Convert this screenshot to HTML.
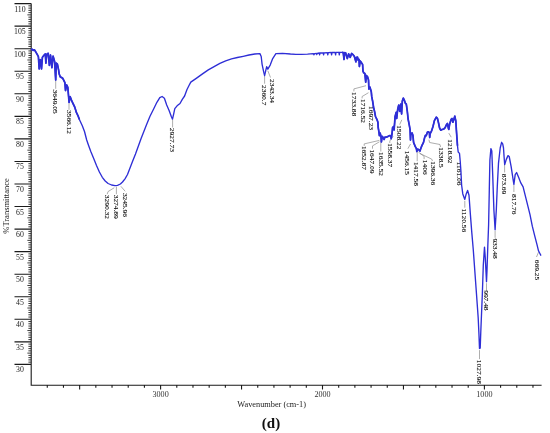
<!DOCTYPE html><html><head><meta charset="utf-8"><style>html,body{margin:0;padding:0;background:#fff;}svg{display:block;will-change:transform;}text{font-family:"Liberation Serif",serif;}</style></head><body><svg width="550" height="433" viewBox="0 0 550 433"><rect width="550" height="433" fill="#fff"/><path d="M31.2,3.6V385.2H541.6M14.5,3.60H31.2M14.5,26.15H31.2M14.5,48.70H31.2M14.5,71.25H31.2M14.5,93.80H31.2M14.5,116.35H31.2M14.5,138.90H31.2M14.5,161.45H31.2M14.5,184.00H31.2M14.5,206.55H31.2M14.5,229.10H31.2M14.5,251.65H31.2M14.5,274.20H31.2M14.5,296.75H31.2M14.5,319.30H31.2M14.5,341.85H31.2M14.5,364.40H31.2M47.27,385.2V387.7M63.46,385.2V387.7M79.65,385.2V389.5M95.84,385.2V387.7M112.03,385.2V387.7M128.22,385.2V387.7M144.41,385.2V387.7M160.60,385.2V389.5M176.79,385.2V387.7M192.98,385.2V387.7M209.17,385.2V387.7M225.36,385.2V387.7M241.55,385.2V389.5M257.74,385.2V387.7M273.93,385.2V387.7M290.12,385.2V387.7M306.31,385.2V387.7M322.50,385.2V389.5M338.69,385.2V387.7M354.88,385.2V387.7M371.07,385.2V387.7M387.26,385.2V387.7M403.45,385.2V389.5M419.64,385.2V387.7M435.83,385.2V387.7M452.02,385.2V387.7M468.21,385.2V387.7M484.40,385.2V389.5M500.59,385.2V387.7M516.78,385.2V387.7M532.97,385.2V387.7" stroke="#1a1a1a" stroke-width="1.1" fill="none"/><path d="M28.4,5.86H31.2M28.4,8.11H31.2M28.4,10.37H31.2M28.4,12.62H31.2M27.4,14.87H31.2M28.4,17.13H31.2M28.4,19.39H31.2M28.4,21.64H31.2M28.4,23.89H31.2M28.4,28.41H31.2M28.4,30.66H31.2M28.4,32.91H31.2M28.4,35.17H31.2M27.4,37.42H31.2M28.4,39.68H31.2M28.4,41.94H31.2M28.4,44.19H31.2M28.4,46.45H31.2M28.4,50.95H31.2M28.4,53.21H31.2M28.4,55.46H31.2M28.4,57.72H31.2M27.4,59.98H31.2M28.4,62.23H31.2M28.4,64.48H31.2M28.4,66.74H31.2M28.4,68.99H31.2M28.4,73.50H31.2M28.4,75.76H31.2M28.4,78.01H31.2M28.4,80.27H31.2M27.4,82.52H31.2M28.4,84.78H31.2M28.4,87.03H31.2M28.4,89.29H31.2M28.4,91.54H31.2M28.4,96.05H31.2M28.4,98.31H31.2M28.4,100.56H31.2M28.4,102.82H31.2M27.4,105.07H31.2M28.4,107.33H31.2M28.4,109.58H31.2M28.4,111.84H31.2M28.4,114.09H31.2M28.4,118.60H31.2M28.4,120.86H31.2M28.4,123.11H31.2M28.4,125.37H31.2M27.4,127.62H31.2M28.4,129.88H31.2M28.4,132.13H31.2M28.4,134.39H31.2M28.4,136.64H31.2M28.4,141.16H31.2M28.4,143.41H31.2M28.4,145.66H31.2M28.4,147.92H31.2M27.4,150.17H31.2M28.4,152.43H31.2M28.4,154.68H31.2M28.4,156.94H31.2M28.4,159.19H31.2M28.4,163.70H31.2M28.4,165.96H31.2M28.4,168.21H31.2M28.4,170.47H31.2M27.4,172.72H31.2M28.4,174.98H31.2M28.4,177.23H31.2M28.4,179.49H31.2M28.4,181.74H31.2M28.4,186.25H31.2M28.4,188.51H31.2M28.4,190.76H31.2M28.4,193.02H31.2M27.4,195.27H31.2M28.4,197.53H31.2M28.4,199.78H31.2M28.4,202.04H31.2M28.4,204.29H31.2M28.4,208.80H31.2M28.4,211.06H31.2M28.4,213.31H31.2M28.4,215.57H31.2M27.4,217.82H31.2M28.4,220.08H31.2M28.4,222.33H31.2M28.4,224.59H31.2M28.4,226.84H31.2M28.4,231.35H31.2M28.4,233.61H31.2M28.4,235.86H31.2M28.4,238.12H31.2M27.4,240.37H31.2M28.4,242.63H31.2M28.4,244.88H31.2M28.4,247.14H31.2M28.4,249.39H31.2M28.4,253.90H31.2M28.4,256.16H31.2M28.4,258.42H31.2M28.4,260.67H31.2M27.4,262.93H31.2M28.4,265.18H31.2M28.4,267.44H31.2M28.4,269.69H31.2M28.4,271.94H31.2M28.4,276.45H31.2M28.4,278.71H31.2M28.4,280.97H31.2M28.4,283.22H31.2M27.4,285.48H31.2M28.4,287.73H31.2M28.4,289.99H31.2M28.4,292.24H31.2M28.4,294.50H31.2M28.4,299.00H31.2M28.4,301.26H31.2M28.4,303.51H31.2M28.4,305.77H31.2M27.4,308.03H31.2M28.4,310.28H31.2M28.4,312.54H31.2M28.4,314.79H31.2M28.4,317.05H31.2M28.4,321.56H31.2M28.4,323.81H31.2M28.4,326.06H31.2M28.4,328.32H31.2M27.4,330.57H31.2M28.4,332.83H31.2M28.4,335.08H31.2M28.4,337.34H31.2M28.4,339.60H31.2M28.4,344.11H31.2M28.4,346.36H31.2M28.4,348.62H31.2M28.4,350.87H31.2M27.4,353.12H31.2M28.4,355.38H31.2M28.4,357.63H31.2M28.4,359.89H31.2M28.4,362.14H31.2" stroke="#222" stroke-width="0.9" fill="none"/><text x="19.9" y="11.60" font-size="7.8" fill="#222" text-anchor="middle">110</text><text x="19.9" y="34.15" font-size="7.8" fill="#222" text-anchor="middle">105</text><text x="19.9" y="56.70" font-size="7.8" fill="#222" text-anchor="middle">100</text><text x="19.9" y="79.25" font-size="7.8" fill="#222" text-anchor="middle">95</text><text x="19.9" y="101.80" font-size="7.8" fill="#222" text-anchor="middle">90</text><text x="19.9" y="124.35" font-size="7.8" fill="#222" text-anchor="middle">85</text><text x="19.9" y="146.90" font-size="7.8" fill="#222" text-anchor="middle">80</text><text x="19.9" y="169.45" font-size="7.8" fill="#222" text-anchor="middle">75</text><text x="19.9" y="192.00" font-size="7.8" fill="#222" text-anchor="middle">70</text><text x="19.9" y="214.55" font-size="7.8" fill="#222" text-anchor="middle">65</text><text x="19.9" y="237.10" font-size="7.8" fill="#222" text-anchor="middle">60</text><text x="19.9" y="259.65" font-size="7.8" fill="#222" text-anchor="middle">55</text><text x="19.9" y="282.20" font-size="7.8" fill="#222" text-anchor="middle">50</text><text x="19.9" y="304.75" font-size="7.8" fill="#222" text-anchor="middle">45</text><text x="19.9" y="327.30" font-size="7.8" fill="#222" text-anchor="middle">40</text><text x="19.9" y="349.85" font-size="7.8" fill="#222" text-anchor="middle">35</text><text x="19.9" y="372.40" font-size="7.8" fill="#222" text-anchor="middle">30</text><text x="160.60" y="397.3" font-size="8.1" fill="#333" text-anchor="middle">3000</text><text x="322.50" y="397.3" font-size="8.1" fill="#333" text-anchor="middle">2000</text><text x="484.40" y="397.3" font-size="8.1" fill="#333" text-anchor="middle">1000</text><text x="237.3" y="406.8" font-size="8.4" fill="#222" textLength="68.7" lengthAdjust="spacingAndGlyphs">Wavenumber (cm-1)</text><text x="271" y="428.2" font-size="15" font-weight="bold" fill="#111" text-anchor="middle">(d)</text><text transform="translate(8.9,206) rotate(-90) scale(1,0.88)" font-size="8.5" fill="#222" text-anchor="middle">%Transmittance</text><path d="M55.7,80.0L55.7,88.8M69.0,102.0L69.0,109.8M114.3,187.7L108.0,191.6L107.2,194.2M116.4,186.6L116.4,194.2M120.9,186.3L125.2,191.3M172.6,119.5L172.6,127.5M264.6,76.0L264.6,83.7M267.8,70.7L270.5,77.5M366.0,85.7L353.9,88.9L353.9,91.4M368.5,92.7L362.1,96.5L362.1,98.4M379.4,140.4L364.2,143.9L364.2,145.9M379.4,141.8L372.5,145.9L372.5,148.7M380.8,141.5L380.8,151.5M393.2,136.2L389.8,141.0L389.8,143.0M401.8,119.8L399.7,124.6M410.5,144.0L407.9,148.7M417.2,150.0L417.2,161.2M418.5,152.2L424.1,156.3L424.1,159.1M419.9,153.5L431.7,159.1L432.5,161.0M428.9,139.7L429.6,142.5L440.0,144.5L440.5,147.0M448.8,133.1L451.2,137.2M464.8,200.8L464.8,207.7M479.5,350.1L479.5,359.1M486.5,283.2L486.5,290.2M495.1,230.8L495.1,237.8M504.6,164.2L504.6,172.5M513.9,185.0L513.9,192.0M538.5,252.2L536.5,257.0" stroke="#777" stroke-width="0.6" fill="none"/><text transform="translate(53.35,89.60) rotate(90) scale(1,0.88)" font-size="7.4" fill="#000" stroke="#000" stroke-width="0.1">3649.05</text><text transform="translate(66.65,110.00) rotate(90) scale(1,0.88)" font-size="7.4" fill="#000" stroke="#000" stroke-width="0.1">3566.12</text><text transform="translate(104.95,194.80) rotate(90) scale(1,0.88)" font-size="7.4" fill="#000" stroke="#000" stroke-width="0.1">3290.32</text><text transform="translate(114.15,194.70) rotate(90) scale(1,0.88)" font-size="7.4" fill="#000" stroke="#000" stroke-width="0.1">3274.89</text><text transform="translate(122.85,192.90) rotate(90) scale(1,0.88)" font-size="7.4" fill="#000" stroke="#000" stroke-width="0.1">3245.96</text><text transform="translate(170.15,127.80) rotate(90) scale(1,0.88)" font-size="7.4" fill="#000" stroke="#000" stroke-width="0.1">2927.73</text><text transform="translate(262.45,85.00) rotate(90) scale(1,0.88)" font-size="7.4" fill="#000" stroke="#000" stroke-width="0.1">2360.7</text><text transform="translate(269.65,79.00) rotate(90) scale(1,0.88)" font-size="7.4" fill="#000" stroke="#000" stroke-width="0.1">2343.34</text><text transform="translate(352.05,92.10) rotate(90) scale(1,0.88)" font-size="7.4" fill="#000" stroke="#000" stroke-width="0.1">1733.88</text><text transform="translate(360.55,99.00) rotate(90) scale(1,0.88)" font-size="7.4" fill="#000" stroke="#000" stroke-width="0.1">1716.52</text><text transform="translate(369.15,106.00) rotate(90) scale(1,0.88)" font-size="7.4" fill="#000" stroke="#000" stroke-width="0.1">1697.23</text><text transform="translate(361.95,145.90) rotate(90) scale(1,0.88)" font-size="7.4" fill="#000" stroke="#000" stroke-width="0.1">1652.87</text><text transform="translate(370.35,149.40) rotate(90) scale(1,0.88)" font-size="7.4" fill="#000" stroke="#000" stroke-width="0.1">1647.09</text><text transform="translate(379.25,152.00) rotate(90) scale(1,0.88)" font-size="7.4" fill="#000" stroke="#000" stroke-width="0.1">1635.52</text><text transform="translate(387.65,143.20) rotate(90) scale(1,0.88)" font-size="7.4" fill="#000" stroke="#000" stroke-width="0.1">1558.37</text><text transform="translate(397.15,125.30) rotate(90) scale(1,0.88)" font-size="7.4" fill="#000" stroke="#000" stroke-width="0.1">1508.22</text><text transform="translate(405.35,150.80) rotate(90) scale(1,0.88)" font-size="7.4" fill="#000" stroke="#000" stroke-width="0.1">1456.15</text><text transform="translate(414.25,161.90) rotate(90) scale(1,0.88)" font-size="7.4" fill="#000" stroke="#000" stroke-width="0.1">1417.58</text><text transform="translate(422.65,159.80) rotate(90) scale(1,0.88)" font-size="7.4" fill="#000" stroke="#000" stroke-width="0.1">1406</text><text transform="translate(430.95,161.20) rotate(90) scale(1,0.88)" font-size="7.4" fill="#000" stroke="#000" stroke-width="0.1">1396.36</text><text transform="translate(438.65,147.30) rotate(90) scale(1,0.88)" font-size="7.4" fill="#000" stroke="#000" stroke-width="0.1">1338.5</text><text transform="translate(448.05,139.30) rotate(90) scale(1,0.88)" font-size="7.4" fill="#000" stroke="#000" stroke-width="0.1">1218.92</text><text transform="translate(457.05,161.70) rotate(90) scale(1,0.88)" font-size="7.4" fill="#000" stroke="#000" stroke-width="0.1">1161.06</text><text transform="translate(462.35,208.40) rotate(90) scale(1,0.88)" font-size="7.4" fill="#000" stroke="#000" stroke-width="0.1">1120.56</text><text transform="translate(477.05,359.80) rotate(90) scale(1,0.88)" font-size="7.4" fill="#000" stroke="#000" stroke-width="0.1">1027.98</text><text transform="translate(484.45,290.20) rotate(90) scale(1,0.88)" font-size="7.4" fill="#000" stroke="#000" stroke-width="0.1">997.48</text><text transform="translate(493.15,238.40) rotate(90) scale(1,0.88)" font-size="7.4" fill="#000" stroke="#000" stroke-width="0.1">933.48</text><text transform="translate(502.45,173.80) rotate(90) scale(1,0.88)" font-size="7.4" fill="#000" stroke="#000" stroke-width="0.1">873.69</text><text transform="translate(511.75,194.00) rotate(90) scale(1,0.88)" font-size="7.4" fill="#000" stroke="#000" stroke-width="0.1">817.76</text><text transform="translate(534.95,259.80) rotate(90) scale(1,0.88)" font-size="7.4" fill="#000" stroke="#000" stroke-width="0.1">669.25</text><path d="M31.2,50.0L32.0,49.2L33.2,50.4L34.4,49.8L35.5,51.5L37.2,54.4L38.4,56.7L39.2,68.9L40.1,59.6L40.7,60.2L41.5,68.9L42.4,57.3L44.2,55.0L45.3,53.9L45.9,63.1L46.7,54.4L48.2,53.3L49.4,65.4L50.5,55.0L51.9,67.7L53.1,56.2L54.6,61.4L55.7,80.0L56.3,63.1L57.4,64.2L58.6,70.0L59.2,74.0L60.3,76.9L62.6,78.1L63.8,80.4L64.9,82.7L65.5,90.5L66.7,85.0L67.8,87.3L68.4,94.2L69.1,102.3L70.1,96.6L71.9,101.2L73.0,103.5L74.7,107.0L76.5,112.7L78.2,116.2L79.4,119.5L82.3,125.8L84.5,131.5L86.7,140.0L88.5,145.2L90.8,151.5L93.7,158.5L96.5,165.4L99.4,172.0L102.3,177.3L105.2,181.0L108.1,183.5L111.6,185.0L115.0,185.6L117.5,185.3L120.4,184.0L122.5,182.0L125.0,178.8L127.5,174.5L130.0,168.0L132.5,161.5L135.5,154.0L141.1,138.5L146.6,124.5L150.0,116.2L153.5,109.2L156.9,102.3L159.8,97.7L162.1,96.5L164.4,98.3L166.7,105.0L169.1,110.4L171.4,116.8L172.5,119.1L173.7,113.9L174.8,108.7L177.1,105.8L180.0,103.5L182.3,99.4L184.6,96.0L187.0,89.5L189.0,85.5L190.8,82.1L196.6,78.1L202.5,73.9L208.3,69.9L214.1,66.6L219.9,63.4L225.7,60.8L231.5,58.9L237.4,57.5L243.2,56.3L249.0,55.0L254.8,54.0L259.9,53.6L261.2,56.5L262.1,64.3L263.8,72.4L264.6,75.6L265.9,69.9L266.7,66.7L267.8,69.1L270.2,65.1L272.7,58.6L275.9,53.6L282.4,53.3L290.5,54.0L295.8,54.3L301.6,54.3L307.5,54.1L313.3,53.7L314.0,54.8L314.5,53.6L316.5,53.4L316.8,54.6L317.2,53.3L319.2,53.0L319.6,54.8L320.0,53.0L323.2,52.8L323.6,54.8L324.0,52.8L327.4,52.6L327.8,54.8L328.2,52.6L331.2,52.5L331.6,54.8L332.0,52.5L335.2,52.4L335.6,54.8L336.0,52.4L338.9,52.3L339.3,54.8L339.7,52.3L342.0,52.3L343.2,52.5L344.0,59.5L344.7,52.7L345.6,52.8L347.3,58.5L348.6,53.9L350.2,57.4L351.6,53.5L353.1,54.7L354.3,56.3L355.9,61.8L356.3,57.5L357.5,57.1L358.2,60.2L359.0,59.4L359.4,66.5L360.2,61.0L361.4,62.6L362.6,64.5L363.0,71.2L363.7,72.8L364.9,73.6L365.7,82.2L366.4,75.5L367.6,76.9L368.5,80.0L368.9,89.0L369.9,87.1L371.3,91.7L371.7,96.4L372.6,101.0L373.6,107.5L374.5,111.2L375.5,116.5L377.1,119.9L377.9,122.2L378.2,127.7L379.0,132.4L379.4,135.6L380.2,133.2L381.0,136.4L381.4,141.9L382.2,136.4L383.4,137.9L384.1,139.5L384.9,137.1L386.5,137.1L388.1,136.4L389.6,135.6L390.8,135.6L391.2,138.7L392.0,134.0L392.6,127.5L393.6,126.5L394.1,130.0L395.1,116.4L396.2,112.3L396.7,118.5L397.7,109.2L398.7,105.2L399.7,111.3L400.7,104.2L401.6,114.0L402.3,101.1L403.3,98.1L404.3,100.1L405.3,103.1L406.3,104.2L407.3,111.3L408.1,119.0L409.3,125.1L410.1,129.9L410.5,140.0L410.9,133.8L412.1,133.0L412.9,135.4L413.6,142.4L415.2,146.4L416.4,148.7L416.8,151.5L417.6,149.1L419.1,149.9L419.9,151.1L420.7,148.7L421.9,145.6L423.5,142.4L424.6,137.7L425.4,135.4L426.2,135.7L427.4,132.2L428.6,131.8L429.4,133.0L429.7,137.5L430.1,133.8L431.7,130.6L433.0,126.5L434.4,120.6L436.3,117.2L437.4,118.3L438.5,122.8L439.6,128.0L440.7,130.2L442.2,129.4L443.7,129.1L445.2,127.6L446.3,125.0L447.4,123.5L448.5,128.7L448.8,129.4L449.6,124.3L451.1,119.4L452.0,118.5L452.9,122.2L454.8,116.2L455.8,121.0L456.6,133.3L457.5,145.8L458.2,152.0L459.5,153.4L460.2,161.0L460.9,170.7L461.6,185.0L462.8,193.9L464.8,199.4L466.2,193.9L467.6,190.4L469.0,195.2L470.4,214.6L471.8,232.6L473.3,250.0L476.2,290.0L478.2,318.0L478.9,333.0L479.5,348.5L480.2,348.2L480.8,331.6L482.3,295.0L483.3,265.0L484.5,247.1L485.3,258.0L486.0,272.0L486.5,281.7L487.0,270.4L487.8,246.2L488.6,225.0L489.3,190.0L489.9,160.0L490.9,148.6L491.8,151.0L492.7,174.6L493.9,210.0L495.1,229.8L496.3,210.0L497.3,186.2L498.5,163.1L500.2,148.0L501.6,142.3L502.7,143.8L503.5,148.0L504.1,157.0L504.7,164.6L506.3,159.4L508.0,155.6L509.2,156.5L511.1,166.3L513.2,180.2L513.9,184.3L515.2,174.6L516.6,172.5L518.7,177.4L520.8,182.9L523.1,186.9L525.4,196.2L527.7,205.4L530.0,214.6L532.3,226.2L534.6,235.4L537.0,244.7L538.5,250.8L539.9,253.5L541.0,255.6" stroke="#2e2ed6" stroke-width="1.35" fill="none" stroke-linejoin="round"/><path d="M31.2,50.0L32.0,49.2L33.2,50.4L34.4,49.8L35.5,51.5L37.2,54.4L38.4,56.7L39.2,68.9L40.1,59.6L40.7,60.2L41.5,68.9L42.4,57.3L44.2,55.0L45.3,53.9L45.9,63.1L46.7,54.4L48.2,53.3L49.4,65.4L50.5,55.0L51.9,67.7L53.1,56.2L54.6,61.4L55.7,80.0L56.3,63.1L57.4,64.2L58.6,70.0L59.2,74.0L60.3,76.9L62.6,78.1L63.8,80.4L64.9,82.7L65.5,90.5L66.7,85.0L67.8,87.3L68.4,94.2L69.1,102.3L70.1,96.6L71.9,101.2L73.0,103.5L74.7,107.0L76.5,112.7L78.2,116.2L79.4,119.5" stroke="#2e2ed6" stroke-width="1.75" fill="none" stroke-linejoin="round"/><path d="M342.0,52.3L343.2,52.5L344.0,59.5L344.7,52.7L345.6,52.8L347.3,58.5L348.6,53.9L350.2,57.4L351.6,53.5L353.1,54.7L354.3,56.3L355.9,61.8L356.3,57.5L357.5,57.1L358.2,60.2L359.0,59.4L359.4,66.5L360.2,61.0L361.4,62.6L362.6,64.5L363.0,71.2L363.7,72.8L364.9,73.6L365.7,82.2L366.4,75.5L367.6,76.9L368.5,80.0L368.9,89.0L369.9,87.1L371.3,91.7L371.7,96.4L372.6,101.0L373.6,107.5L374.5,111.2L375.5,116.5L377.1,119.9L377.9,122.2L378.2,127.7L379.0,132.4L379.4,135.6L380.2,133.2L381.0,136.4L381.4,141.9L382.2,136.4L383.4,137.9L384.1,139.5L384.9,137.1L386.5,137.1L388.1,136.4L389.6,135.6L390.8,135.6L391.2,138.7L392.0,134.0L392.6,127.5L393.6,126.5L394.1,130.0L395.1,116.4L396.2,112.3L396.7,118.5L397.7,109.2L398.7,105.2L399.7,111.3L400.7,104.2L401.6,114.0L402.3,101.1L403.3,98.1L404.3,100.1L405.3,103.1L406.3,104.2L407.3,111.3L408.1,119.0L409.3,125.1L410.1,129.9L410.5,140.0L410.9,133.8L412.1,133.0L412.9,135.4L413.6,142.4L415.2,146.4L416.4,148.7L416.8,151.5L417.6,149.1L419.1,149.9L419.9,151.1L420.7,148.7L421.9,145.6L423.5,142.4L424.6,137.7L425.4,135.4L426.2,135.7L427.4,132.2L428.6,131.8L429.4,133.0L429.7,137.5L430.1,133.8L431.7,130.6L433.0,126.5L434.4,120.6L436.3,117.2L437.4,118.3L438.5,122.8L439.6,128.0L440.7,130.2L442.2,129.4L443.7,129.1L445.2,127.6L446.3,125.0L447.4,123.5L448.5,128.7L448.8,129.4L449.6,124.3L451.1,119.4L452.0,118.5L452.9,122.2L454.8,116.2L455.8,121.0L456.6,133.3L457.5,145.8" stroke="#2e2ed6" stroke-width="1.75" fill="none" stroke-linejoin="round"/></svg></body></html>
